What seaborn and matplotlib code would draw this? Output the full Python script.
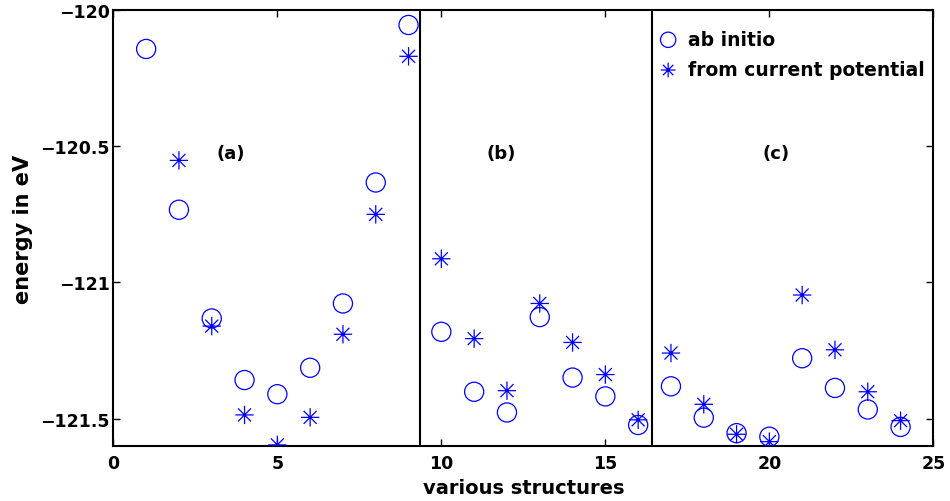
import numpy as np
import pandas as pd
import matplotlib
matplotlib.use("Agg")
import matplotlib.pyplot as plt
from matplotlib.path import Path
import seaborn as sns

# ---- data ----
structures = list(range(1, 25))
ab_initio = [-120.143, -120.733, -121.132, -121.358, -121.410, -121.313, -121.077, -120.633,
             -120.055, -121.181, -121.401, -121.477, -121.127, -121.349, -121.418, -121.523,
             -121.381, -121.496, -121.553, -121.566, -121.278, -121.387, -121.466, -121.530]
potential = [None, -120.552, -121.160, -121.486, -121.596, -121.495, -121.190, -120.750,
             -120.170, -120.913, -121.206, -121.397, -121.077, -121.220, -121.338, -121.504,
             -121.259, -121.447, -121.557, -121.584, -121.046, -121.247, -121.401, -121.507]
separators = [9.35, 16.43]
group_labels = ["(a)", "(b)", "(c)"]
group_label_x = [3.58, 11.83, 20.2]
group_label_y = -120.524
xticks = [0, 5, 10, 15, 20, 25]
yticks = [-121.5, -121.0, -120.5, -120.0]
ytick_labels = ["\u2212121.5", "\u2212121", "\u2212120.5", "\u2212120"]

df_ab = pd.DataFrame({"x": structures, "y": ab_initio})
df_pot = pd.DataFrame({"x": structures, "y": potential}).dropna()

# ---- style ----
sns.set_style("white")
plt.rcParams["font.family"] = ["DejaVu Sans"]
plt.rcParams["font.weight"] = "bold"
plt.rcParams["text.color"] = "black"
plt.rcParams["axes.labelcolor"] = "black"

blue = "#0000ff"
d = np.sqrt(0.5)
ast_path = Path(
    [(-1, 0), (1, 0), (0, -1), (0, 1), (-d, -d), (d, d), (-d, d), (d, -d)],
    [Path.MOVETO, Path.LINETO] * 4,
)

fig = plt.figure(figsize=(9.5, 5.02), dpi=100)
ax = fig.add_axes([0.1193, 0.1096, 0.8632, 0.8685])

sns.scatterplot(data=df_ab, x="x", y="y", ax=ax, marker="o", s=190,
                facecolor="none", edgecolor=blue, linewidth=0.9, label="ab initio",
                zorder=3)
sns.scatterplot(data=df_pot, x="x", y="y", ax=ax, marker=ast_path, s=175,
                facecolor="none", edgecolor=blue, linewidth=0.9,
                label="from current potential", zorder=3)

for sx in separators:
    ax.axvline(sx, color="black", linewidth=1.5, zorder=2)

for lab, lx in zip(group_labels, group_label_x):
    ax.text(lx, group_label_y, lab, ha="center", va="center", fontsize=13,
            fontweight="bold", color="black")

ax.set_xlim(0, 25)
ax.set_ylim(-121.6, -120.0)
ax.set_xticks(xticks)
ax.set_xticklabels([str(t) for t in xticks])
ax.set_yticks(yticks)
ax.set_yticklabels(ytick_labels)
ax.tick_params(direction="in", length=5, width=1, top=True, right=True,
               bottom=True, left=True, labelsize=12.5, colors="black")
ax.tick_params(axis="x", pad=6)
ax.tick_params(axis="y", pad=2.5)
for lbl in ax.get_xticklabels() + ax.get_yticklabels():
    lbl.set_fontweight("bold")
for sp in ax.spines.values():
    sp.set_visible(True)
    sp.set_color("black")
    sp.set_linewidth(1.5)

ax.set_xlabel("various structures", fontsize=14, fontweight="bold", labelpad=4,
              color="black")
ax.set_ylabel("energy in eV", fontsize=15, fontweight="bold", labelpad=5,
              color="black")

leg = ax.legend(loc="upper left", bbox_to_anchor=(0.656, 0.972), frameon=False,
                fontsize=13.5, handletextpad=0.55, borderaxespad=0.0,
                labelspacing=0.6, handlelength=1.0, markerscale=0.8)
for t in leg.get_texts():
    t.set_fontweight("bold")
    t.set_color("black")

fig.savefig("out.png", dpi=100)
